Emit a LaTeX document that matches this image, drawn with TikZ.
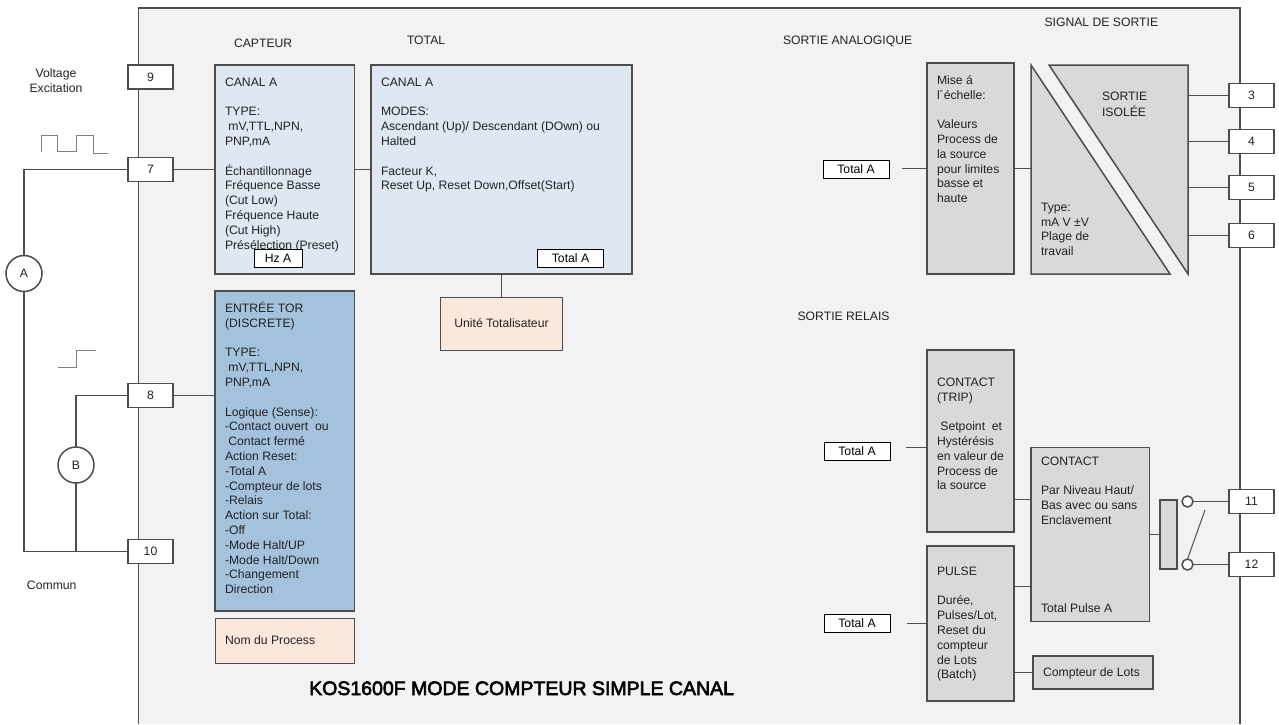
\documentclass[tikz,border=0pt]{standalone}
\usepackage{fontspec}
\setmainfont[Ligatures=NoCommon]{Liberation Sans}
\newfontfamily\titlefont[FakeBold=3,Ligatures=NoCommon]{Liberation Sans}
\definecolor{frameline}{HTML}{4D4D4D}
\definecolor{panel}{HTML}{F2F2F2}
\definecolor{lightblue}{HTML}{DFE8F2}
\definecolor{midblue}{HTML}{A5C2DD}
\definecolor{peach}{HTML}{FBE8DC}
\definecolor{greybox}{HTML}{D9D9D9}
\definecolor{ink}{HTML}{222222}
\tikzset{
  txtfont/.style={font=\fontsize{12.2}{14.8}\selectfont,text=ink},
  panelbox/.style={draw=frameline,line width=1.5pt,outer sep=0pt,inner xsep=10pt,inner ysep=0pt,txtfont},
  blue1/.style={panelbox,fill=lightblue},
  blue2/.style={panelbox,fill=midblue},
  peachbox/.style={panelbox,fill=peach,line width=1pt},
  greyb/.style={panelbox,fill=greybox},
  terminal/.style={draw=frameline,line width=1.5pt,fill=white,outer sep=0pt,inner sep=0pt,minimum width=45pt,minimum height=24pt,txtfont},
  tag/.style={draw=black,line width=1pt,fill=white,outer sep=0pt,inner sep=0pt,minimum width=66pt,minimum height=18pt,txtfont,text=black},
  probe/.style={circle,draw=frameline,line width=1.5pt,fill=white,outer sep=0pt,inner sep=0pt,minimum size=36pt,txtfont},
  contactpt/.style={circle,draw=frameline,line width=1.5pt,fill=white,outer sep=0pt,inner sep=0pt,minimum size=11pt},
  wire/.style={draw=frameline,line width=1.5pt},
  wave/.style={draw=gray,line width=1pt},
  lab/.style={inner sep=0pt,outer sep=0pt,anchor=base west,txtfont}
}
% name, style, x1, y1, x2, y2, centre of first line below top, text
\newcommand{\bx}[8]{%
  \pgfmathsetmacro{\bw}{#5-#3-20}%
  \pgfmathsetmacro{\bh}{#6-#4}%
  \pgfmathsetmacro{\bo}{#7-6}%
  \node[#2] (#1) at ({(#3+#5)/2},{(#4+#6)/2})
    {\parbox[t][\bh pt][t]{\bw pt}{\vspace*{\bo pt}\strut #8}};%
}
\newcommand{\lsp}{\hspace*{3.4pt}}
\begin{document}
\begin{tikzpicture}[x=1pt,y=-1pt]
\useasboundingbox (0,0) rectangle (1279,724);
% housing
\fill[panel] (138.5,8) rectangle (1240,724);
\draw[wire] (138.5,724) -- (138.5,8) -- (1240,8) -- (1240,724);
% section titles
\node[lab] (lcapt) at (234,47.4) {CAPTEUR};
\node[lab] (ltot) at (407,44.4) {TOTAL};
\node[lab] (lana) at (783,44.4) {SORTIE ANALOGIQUE};
\node[lab] (lsig) at (1044.5,26.4) {SIGNAL DE SORTIE};
\node[lab] (lrel) at (797.6,320.4) {SORTIE RELAIS};
\node[lab] (lcom) at (27,589.4) {Commun};
\node[txtfont,align=center,inner sep=0pt] (lvolt) at (56,80.5) {Voltage\\Excitation};
\node[inner sep=0pt,anchor=base west,text=black,font=\titlefont\fontsize{19.5}{22}\selectfont] (ttl) at (309,695) {KOS1600F MODE COMPTEUR SIMPLE CANAL};
% left column
\bx{canal}{blue1}{215}{65}{354.5}{274}{17}{CANAL A\\[14.8pt]TYPE:\\\lsp mV,TTL,NPN,\\PNP,mA\\[14.8pt]Échantillonnage\\Fréquence Basse\\(Cut Low)\\Fréquence Haute\\(Cut High)\\Présélection (Preset)}
\bx{tor}{blue2}{215}{291}{354.5}{611}{17}{ENTRÉE TOR\\(DISCRETE)\\[14.8pt]TYPE:\\\lsp mV,TTL,NPN,\\PNP,mA\\[14.8pt]Logique (Sense):\\-Contact ouvert\ \ ou\\\lsp Contact fermé\\Action Reset:\\-Total A\\-Compteur de lots\\-Relais\\Action sur Total:\\-Off\\-Mode Halt/UP\\-Mode Halt/Down\\-Changement\\Direction}
\bx{nom}{peachbox}{215}{618}{354.5}{663}{22}{Nom du Process}
\node[tag,minimum width=48pt] (hza) at (278,258) {Hz A};
% total
\bx{total}{blue1}{371}{65}{632}{274}{17}{CANAL A\\[14.8pt]MODES:\\Ascendant (Up)/ Descendant (DOwn) ou\\Halted\\[14.8pt]Facteur K,\\Reset Up, Reset Down,Offset(Start)}
\node[tag] (tota) at (570.5,258) {Total A};
\node[panelbox,fill=peach,line width=1pt,inner sep=0pt,minimum width=122pt,minimum height=53pt] (unit) at (501.5,323.5) {Unité Totalisateur};
% terminals
\node[terminal] (t9) at (150.5,77) {9};
\node[terminal] (t7) at (150.5,169.5) {7};
\node[terminal] (t8) at (150.5,395.5) {8};
\node[terminal] (t10) at (150.5,551.5) {10};
\node[terminal] (t3) at (1251.5,95.5) {3};
\node[terminal] (t4) at (1251.5,141.5) {4};
\node[terminal] (t5) at (1251.5,187.5) {5};
\node[terminal] (t6) at (1251.5,235.5) {6};
\node[terminal] (t11) at (1251.5,501.5) {11};
\node[terminal] (t12) at (1251.5,564.5) {12};
% probes
\node[probe] (pa) at (24,273.5) {A};
\node[probe] (pb) at (76,465) {B};
\draw[wire] (t7.west) -| (pa.north);
\draw[wire] (pa.south) |- (t10.west);
\draw[wire] (t8.west) -| (pb.north);
\draw[wire] (pb.south) -- (pb.south |- t10.west);
\draw[wire] (t7.east) -- (t7.east -| canal.west);
\draw[wire] (t8.east) -- (t8.east -| tor.west);
\draw[wire] (t7.east -| canal.east) -- (t7.east -| total.west);
\draw[wire] (total.south) -- (unit.north);
% signal sketches
\draw[wave] (41,152) |- (57,135) |- (76,151) |- (93,135) |- (108,153);
\draw[wave] (58,367.5) -| (76,350) -- (96,350);
% analog output
\bx{mise}{greyb}{927}{63}{1014}{274}{17}{Mise á\\l´échelle:\\[14.8pt]Valeurs\\Process de\\la source\\pour limites\\basse et\\haute}
\node[tag] (taga) at (856,169) {Total A};
\coordinate (tagaend) at (902,168.5);
\draw[wire] (tagaend) -- (tagaend -| mise.west);
\coordinate (triA) at (1031,65);
\coordinate (triB) at (1031,274);
\coordinate (triC) at (1170,274);
\coordinate (triD) at (1049,65);
\coordinate (triE) at (1188,65);
\coordinate (triF) at (1188,274);
\draw[greyb] (triA) -- (triB) -- (triC) -- cycle;
\draw[greyb] (triD) -- (triE) -- (triF) -- cycle;
\draw[wire] (tagaend -| mise.east) -- (tagaend -| triA);
\foreach \t in {t3,t4,t5,t6} \draw[wire] (\t.west) -- (\t.west -| triE);
\node[lab,align=left,anchor=north west] (iso) at (1102,90) {\strut SORTIE\\ISOLÉE};
\node[lab,align=left,anchor=north west] (typ) at (1041,201) {\strut Type:\\mA V ±V\\Plage de\\travail};
% relay output
\bx{trip}{greyb}{927}{350}{1014}{532}{32}{CONTACT\\(TRIP)\\[14.8pt]\lsp Setpoint\ \ et\\Hystérésis\\en valeur de\\Process de\\la source}
\bx{pulse}{greyb}{927}{546}{1014}{701}{25}{PULSE\\[14.8pt]Durée,\\Pulses/Lot,\\Reset du\\compteur\\de Lots\\(Batch)}
\bx{cont}{greyb}{1031}{447.5}{1149.5}{621.5}{13.5}{CONTACT\\[14.8pt]Par Niveau Haut/\\Bas avec ou sans\\Enclavement\\[73pt]Total Pulse A}
\bx{lots}{greyb}{1033}{656}{1153}{689}{16}{Compteur de Lots}
\node[tag] (tagb) at (857,451) {Total A};
\node[tag] (tagc) at (857,623.5) {Total A};
\coordinate (tagbend) at (905.5,447.5);
\coordinate (tagcend) at (907,623.5);
\draw[wire] (tagbend) -- (tagbend -| trip.west);
\draw[wire] (tagcend) -- (tagcend -| pulse.west);
\coordinate (ja) at (1031,499.5);
\coordinate (jb) at (1031,586.5);
\coordinate (jc) at (1033,672.5);
\draw[wire] (ja -| trip.east) -- (ja);
\draw[wire] (jb -| pulse.east) -- (jb);
\draw[wire] (jc -| pulse.east) -- (jc);
\node[draw=frameline,line width=1.5pt,fill=greybox,outer sep=0pt,inner sep=0pt,minimum width=17pt,minimum height=69pt] (coil) at (1168.5,534.5) {};
\draw[wire] (cont.east) -- (coil.west);
\node[contactpt] (c11) at (1187.5,501.5) {};
\node[contactpt] (c12) at (1187.5,564.5) {};
\draw[wire] (c11.east) -- (t11.west);
\draw[wire] (c12.east) -- (t12.west);
\coordinate (swend) at (1205,510);
\draw[wire,line width=1pt] (c12.north) -- (swend);
\end{tikzpicture}
\end{document}
